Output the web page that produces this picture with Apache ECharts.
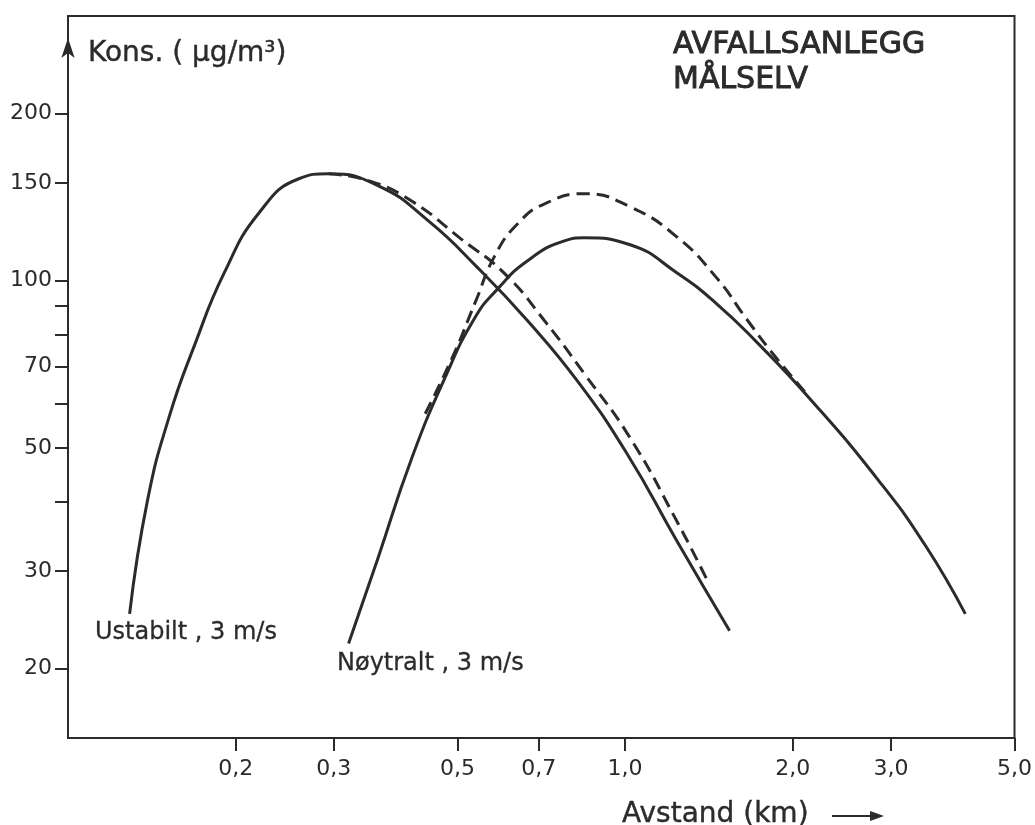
<!DOCTYPE html>
<html>
<head>
<meta charset="utf-8">
<title>Avfallsanlegg Målselv</title>
<script src="https://cdn.jsdelivr.net/npm/echarts@6/dist/echarts.min.js"></script>
<style>
  html, body { margin: 0; padding: 0; background: #fff; }
  #chart { width: 1035px; height: 825px; }
</style>
</head>
<body>
<div id="chart"></div>
<script>
// avstand (km) og konsentrasjon (µg/m3), lest av figuren
const ustabiltX = [0.129, 0.1389, 0.1521, 0.1686, 0.1908, 0.2203, 0.2596, 0.2937, 0.3607, 0.443, 0.5441, 0.6683, 0.8209, 1.008, 1.238, 1.54]
const ustabiltY = [25.1, 40.2, 57.1, 76.4, 103.4, 132.6, 152.7, 155.9, 148.3, 128.3, 105.5, 84.7, 66.0, 48.8, 34.0, 23.4]

const ustabiltStipletX = [0.2937, 0.3461, 0.4131, 0.5073, 0.608, 0.7168, 0.8448, 1.021, 1.238, 1.401]
const ustabiltStipletY = [155.9, 151.5, 139.4, 119.0, 103.0, 84.7, 68.0, 52.1, 36.9, 29.0]

const noytraltX = [0.3189, 0.3607, 0.4131, 0.4751, 0.5375, 0.5906, 0.6683, 0.7782, 0.8448, 1.021, 1.238, 1.46, 1.721, 2.14, 2.854, 3.462, 4.08]
const noytraltY = [22.2, 31.8, 47.6, 66.9, 85.8, 96.7, 108.7, 118.0, 119.5, 116.1, 103.4, 90.9, 77.6, 61.5, 43.6, 33.3, 25.1]

const noytraltStipletX = [0.4377, 0.4911, 0.5396, 0.5835, 0.6413, 0.7168, 0.8448, 1.021, 1.238, 1.46, 1.651, 1.868, 2.14]
const noytraltStipletY = [57.6, 73.2, 92.0, 110.9, 126.7, 137.6, 143.5, 135.9, 120.0, 101.2, 85.4, 72.6, 61.8]

// aksemerker
const xTicks = [0.2, 0.3, 0.5, 0.7, 1, 2, 3, 5]
const yLabels = [20, 30, 50, 70, 100, 150, 200]
const yTicks = [20, 30, 40, 50, 60, 70, 80, 90, 100, 150, 200]

const ink = '#2b2b2b'
const font = '"DejaVu Sans", Arial, sans-serif'

const pairs = (xs, ys) => xs.map((x, i) => [x, ys[i]])

function curve(name, xs, ys, dashed) {
    return {
        name: name,
        type: 'line',
        data: pairs(xs, ys),
        smooth: true,
        symbol: 'none',
        silent: true,
        lineStyle: {
            color: ink,
            width: 3,
            type: dashed ? [13, 7] : 'solid',
            cap: 'butt'
        }
    }
}

// tekst i figuren, litt kraftigere strek som i originalen
function label(text, x, y, size, weight) {
    return {
        type: 'text', x: x, y: y,
        style: {
            text: text,
            font: size + 'px ' + font,
            fill: ink,
            stroke: ink,
            lineWidth: weight,
            verticalAlign: 'middle'
        }
    }
}

const chart = echarts.init(document.getElementById('chart'), null, { renderer: 'canvas' })

const option = {
    backgroundColor: '#fff',
    animation: false,
    grid: {
        left: 68, right: 18, top: 16, bottom: 87,
        show: true,
        borderColor: ink,
        borderWidth: 2,
        backgroundColor: 'transparent'
    },
    xAxis: {
        type: 'log',
        logBase: 10,
        min: 0.1,
        max: 5,
        axisLine: { lineStyle: { color: ink, width: 2 } },
        axisTick: { customValues: xTicks, length: 13, lineStyle: { color: ink, width: 2 } },
        axisLabel: {
            customValues: xTicks,
            margin: 20,
            color: ink,
            fontSize: 22,
            fontFamily: font,
            formatter: v => v.toFixed(1).replace('.', ',')
        },
        splitLine: { show: false },
        minorTick: { show: false }
    },
    yAxis: {
        type: 'log',
        logBase: 10,
        min: 15,
        max: 300,
        axisLine: {
            lineStyle: { color: ink, width: 2 },
            symbol: ['none', 'arrow'],
            symbolSize: [10, 20],
            symbolOffset: [0, -22]
        },
        axisTick: { customValues: yTicks, length: 13, lineStyle: { color: ink, width: 2 } },
        axisLabel: {
            customValues: yLabels,
            margin: 16,
            color: ink,
            fontSize: 22,
            fontFamily: font
        },
        splitLine: { show: false }
    },
    series: [
        curve('Ustabilt', ustabiltX, ustabiltY, false),
        curve('Ustabilt stiplet', ustabiltStipletX, ustabiltStipletY, true),
        curve('Nøytralt', noytraltX, noytraltY, false),
        curve('Nøytralt stiplet', noytraltStipletX, noytraltStipletY, true)
    ],
    graphic: [
        label('Kons. ( μg/m³)', 88, 54, 28, 0.4),
        label('AVFALLSANLEGG', 673, 45, 30, 0.9),
        label('MÅLSELV', 673, 80, 30, 0.9),
        label('Ustabilt , 3 m/s', 95, 633, 24, 0.3),
        label('Nøytralt , 3 m/s', 337, 664, 24, 0.3),
        label('Avstand (km)', 622, 815, 28, 0.4),
        {
            type: 'line',
            shape: { x1: 832, y1: 816, x2: 872, y2: 816 },
            style: { stroke: ink, lineWidth: 2 }
        },
        {
            type: 'polygon',
            shape: { points: [[870, 811], [884, 816], [870, 821]] },
            style: { fill: ink }
        }
    ]
}

chart.setOption(option)
</script>
</body>
</html>
